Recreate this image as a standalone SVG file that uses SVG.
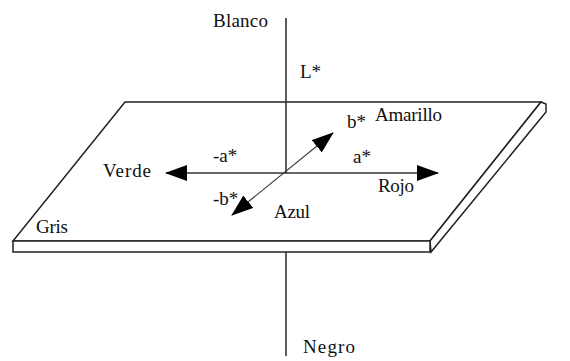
<svg xmlns="http://www.w3.org/2000/svg" width="570" height="361" viewBox="0 0 570 361">
  <style>
    .edge { fill: #fff; stroke: #222; stroke-width: 1.5; stroke-linejoin: miter; }
    .axis { stroke: #333; stroke-width: 1.6; fill: none; }
    .diag { stroke: #333; stroke-width: 1.1; fill: none; }
  </style>
  <defs>
    <marker id="arr" viewBox="0 0 22 16" refX="21" refY="8" markerWidth="22" markerHeight="16" markerUnits="userSpaceOnUse" orient="auto-start-reverse">
      <path d="M0,0 L22,8 L0,16 Z" fill="#000"/>
    </marker>
  </defs>
  <rect width="570" height="361" fill="#fff"/>

  <g id="plate">
    <polygon class="edge" points="125,102 541,102 430,241 13,241"/>
    <polygon class="edge" points="430,241 541,102 546,104 546,112 431,252"/>
    <rect class="edge" x="13" y="241" width="417" height="11"/>
  </g>

  <g id="connectors">
    <line class="axis" x1="286" y1="18" x2="286" y2="173"/>
    <line class="axis" x1="286" y1="252" x2="286" y2="356"/>
    <line class="axis" x1="166" y1="173" x2="438" y2="173" marker-start="url(#arr)" marker-end="url(#arr)"/>
    <line class="diag" x1="232" y1="215" x2="333" y2="133" marker-start="url(#arr)" marker-end="url(#arr)"/>
  </g>

  <g id="labels" font-family="Liberation Serif, Times New Roman, serif" font-size="19" fill="#111">
    <text x="213" y="27" textLength="55">Blanco</text>
    <text x="300" y="78">L*</text>
    <text x="347" y="128">b*</text>
    <text x="375" y="121" textLength="67">Amarillo</text>
    <text x="213" y="162">-a*</text>
    <text x="353" y="163">a*</text>
    <text x="103" y="177" textLength="48">Verde</text>
    <text x="378" y="192" textLength="36">Rojo</text>
    <text x="213" y="205">-b*</text>
    <text x="274" y="218" textLength="36">Azul</text>
    <text x="36" y="233" textLength="32">Gris</text>
    <text x="303" y="353" textLength="52">Negro</text>
  </g>
</svg>
